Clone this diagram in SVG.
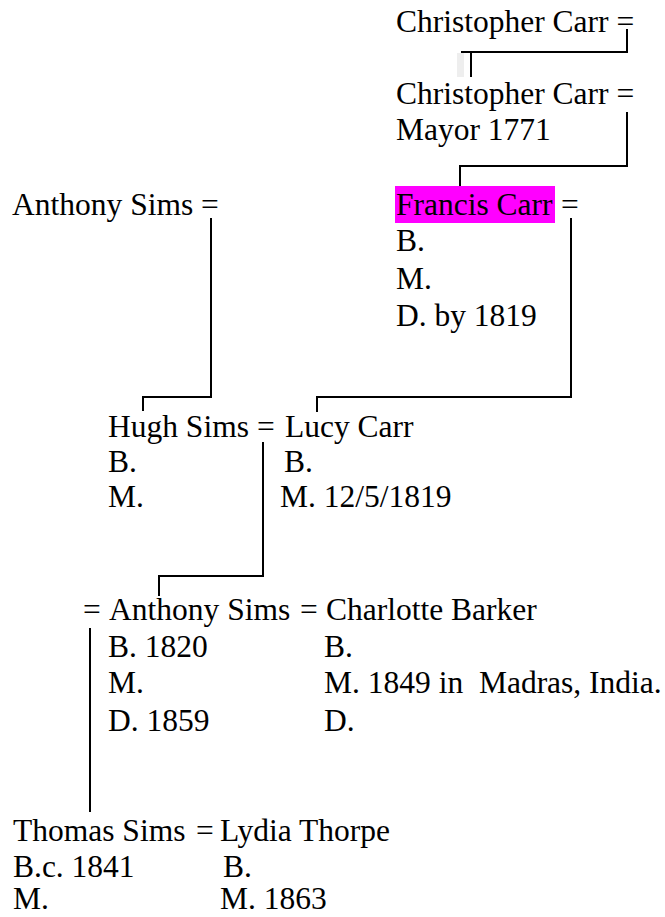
<svg xmlns="http://www.w3.org/2000/svg" width="665" height="917" viewBox="0 0 665 917">
<style>
text{font-family:"Liberation Serif","Times New Roman",serif;font-size:31.5px;fill:#000}
.c{fill:none;stroke:#000;stroke-width:2}
</style>
<rect width="665" height="917" fill="#fff"/>
<g id="connectors">
<polyline class="c" points="627,29 627,52 461,52"/>
<line class="c" x1="471" y1="52" x2="471" y2="77"/>
<rect x="457" y="53" width="7" height="24" fill="#eeeeee"/>
<polyline class="c" points="627,112 627,166 460,166 460,188"/>
<polyline class="c" points="571,218 571,397 317,397 317,412"/>
<polyline class="c" points="211,218 211,397 143,397 143,411"/>
<polyline class="c" points="263,442 263,576 159,576 159,596"/>
<line class="c" x1="90" y1="628" x2="90" y2="812"/>
</g>
<g id="christopher-carr-1">
<text x="396" y="32">Christopher Carr =</text>
</g>
<g id="christopher-carr-2">
<text x="396" y="104">Christopher Carr =</text>
<text x="396" y="140">Mayor 1771</text>
</g>
<g id="francis-carr">
<rect x="395" y="186" width="160" height="37" fill="#ff00ff"/>
<text x="396" y="215">Francis Carr</text>
<text x="561" y="215">=</text>
<text x="396" y="251">B.</text>
<text x="396" y="289">M.</text>
<text x="396" y="326">D. by 1819</text>
</g>
<g id="anthony-sims-1">
<text x="12" y="215">Anthony Sims =</text>
</g>
<g id="hugh-sims">
<text x="108" y="437">Hugh Sims</text>
<text x="257" y="437">=</text>
<text x="108" y="472">B.</text>
<text x="108" y="507">M.</text>
</g>
<g id="lucy-carr">
<text x="285" y="437">Lucy Carr</text>
<text x="284" y="472">B.</text>
<text x="280" y="507">M. 12/5/1819</text>
</g>
<g id="anthony-sims-2">
<text x="83" y="620">=</text>
<text x="109" y="620">Anthony Sims</text>
<text x="300" y="620">=</text>
<text x="108" y="657">B. 1820</text>
<text x="108" y="693">M.</text>
<text x="108" y="731">D. 1859</text>
</g>
<g id="charlotte-barker">
<text x="326" y="620">Charlotte Barker</text>
<text x="324" y="657">B.</text>
<text x="324" y="693" xml:space="preserve">M. 1849 in  Madras, India.</text>
<text x="324" y="731">D.</text>
</g>
<g id="thomas-sims">
<text x="13" y="841">Thomas Sims</text>
<text x="196" y="841">=</text>
<text x="13" y="877">B.c. 1841</text>
<text x="13" y="909">M.</text>
</g>
<g id="lydia-thorpe">
<text x="220" y="841">Lydia Thorpe</text>
<text x="223" y="877">B.</text>
<text x="220" y="909">M. 1863</text>
</g>
</svg>
